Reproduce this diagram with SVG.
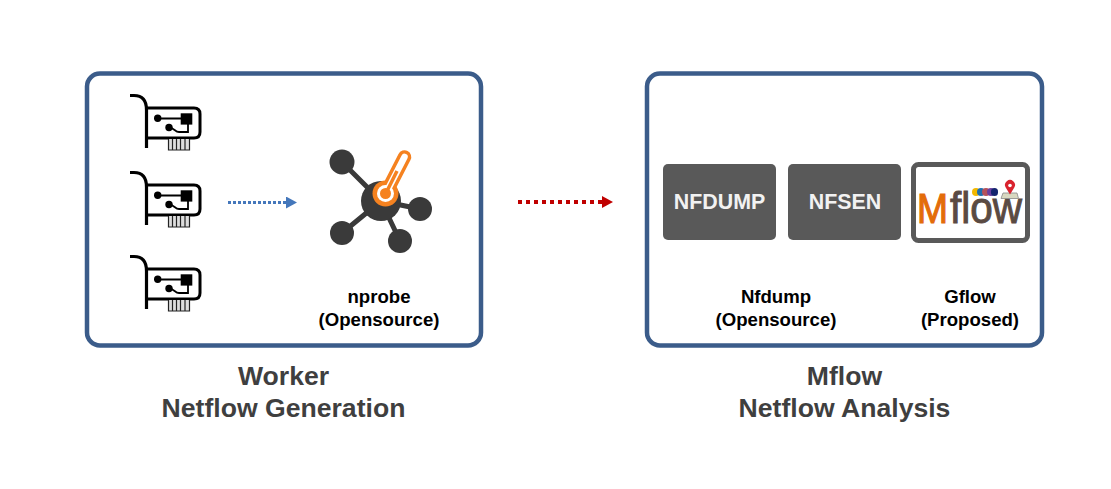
<svg xmlns="http://www.w3.org/2000/svg" width="1111" height="489" viewBox="0 0 1111 489">
<style>
text{font-family:"Liberation Sans",Arial,sans-serif;font-weight:bold;text-anchor:middle}
.panel{fill:#fff;stroke:#3b5c8a;stroke-width:4.5}
.title{font-size:26.600px;fill:#3f3f3f}
.lbl{font-size:18.600px;fill:#000}
.box{fill:#595959}
.boxt{font-size:21.400px;fill:#f2f2f2}
.hub{fill:#3a3a3a}
.ln{fill:none;stroke:#000;stroke-width:1.800}
.logo{font-weight:normal;text-anchor:start}
</style>
<defs>
<marker id="ab" markerUnits="userSpaceOnUse" markerWidth="11" markerHeight="12" refX="0" refY="6" orient="auto"><path d="M0 0L11 6L0 12Z" fill="#4477bb"/></marker>
<marker id="ar" markerUnits="userSpaceOnUse" markerWidth="11" markerHeight="12" refX="0" refY="6" orient="auto"><path d="M0 0L11 6L0 12Z" fill="#c00000"/></marker>
<g id="nic">
<path d="M130 95.500H134Q146.500 95.500 146.500 110V148" fill="none" stroke="#000" stroke-width="3.200"/>
<path d="M147 108H194Q200 108 200 114V132Q200 138 194 138H147" fill="none" stroke="#000" stroke-width="3"/>
<circle cx="157.700" cy="118.300" r="3.700"/>
<rect x="180.700" y="113.300" width="11.600" height="11.300"/>
<path class="ln" d="M158 118.500H181M188 124V132H179C175 132 174 127.500 169 127.500"/>
<circle cx="169" cy="127.500" r="3.700"/>
<path d="M168.500 139V150H189.500V139M172.500 139V150M176.500 139V150M180.500 139V150M185 139V150" fill="#ddd" stroke="#222" stroke-width="1.200"/>
</g>
</defs>
<g id="worker">
<rect class="panel" x="87" y="73.500" width="394" height="272" rx="13"/>
<text class="title" x="283.500" y="384.500">Worker</text>
<text class="title" x="283.500" y="417">Netflow Generation</text>
</g>
<g id="mflow">
<rect class="panel" x="647" y="73.500" width="395" height="272" rx="13"/>
<text class="title" x="844.500" y="384.500">Mflow</text>
<text class="title" x="844.500" y="417">Netflow Analysis</text>
</g>
<g id="nic1"><use href="#nic"/></g>
<g id="nic2"><use href="#nic" y="77"/></g>
<g id="nic3"><use href="#nic" y="161"/></g>
<g id="nprobe">
<path d="M342 162L381 201M420 209L381 201M342 233L381 201M400 241L381 201" stroke="#3a3a3a" stroke-width="5" fill="none"/>
<circle class="hub" cx="342" cy="162" r="12.500"/>
<circle class="hub" cx="420" cy="209" r="12"/>
<circle class="hub" cx="342" cy="233" r="12"/>
<circle class="hub" cx="400" cy="241" r="12"/>
<circle class="hub" cx="381" cy="201" r="20"/>
<path d="M386 193L404.500 157" stroke="#f58220" stroke-width="13.500" stroke-linecap="round" fill="none"/>
<circle cx="385.500" cy="193.500" r="13" fill="#f58220"/>
<path d="M386 193L404.500 157" stroke="#fff" stroke-width="6.500" stroke-linecap="round" fill="none"/>
<circle cx="385.500" cy="193.500" r="8.500" fill="#fff"/>
<path d="M386 193L397 171" stroke="#f58220" stroke-width="3.500" fill="none"/>
<circle cx="385.500" cy="193.500" r="5.500" fill="#f58220"/>
<text class="lbl" x="379" y="302.500">nprobe</text>
<text class="lbl" x="379" y="325.500">(Opensource)</text>
</g>
<g id="nfdump">
<rect class="box" x="663" y="164" width="113" height="76" rx="5"/>
<text class="boxt" x="719.500" y="209">NFDUMP</text>
</g>
<g id="nfsen">
<rect class="box" x="788" y="164" width="113" height="76" rx="5"/>
<text class="boxt" x="845" y="209">NFSEN</text>
</g>
<g id="nfdump-label">
<text class="lbl" x="776" y="302.500">Nfdump</text>
<text class="lbl" x="776" y="325.500">(Opensource)</text>
</g>
<g id="gflow">
<rect x="913.500" y="164.500" width="114" height="76" rx="5" fill="#fff" stroke="#595959" stroke-width="5"/>
<text class="logo" x="917" y="223" style="font-size:42px;fill:#e36c0a;stroke:#e36c0a;stroke-width:1.200" textLength="31" lengthAdjust="spacingAndGlyphs">M</text>
<text class="logo" x="950" y="223" style="font-size:45px;fill:#5a4a42;stroke:#5a4a42;stroke-width:1" textLength="72" lengthAdjust="spacingAndGlyphs">flow</text>
<rect x="972" y="188" width="8" height="8" rx="4" fill="#f2b800"/>
<rect x="977" y="188" width="8" height="8" rx="4" fill="#1f6fb0"/>
<rect x="982" y="188" width="8" height="8" rx="4" fill="#b5525c"/>
<rect x="987" y="188" width="8" height="8" rx="4" fill="#6b3fa0"/>
<rect x="991" y="188" width="7" height="8" rx="3.500" fill="#14246e"/>
<path d="M1001 198.500L1003 193H1017L1018.500 198.500Z" fill="#d8d8c0" stroke="#888" stroke-width="0.800"/>
<path d="M1010 194.500L1005.700 187.500A5 5 0 1 1 1014.300 187.500Z" fill="#d9232e"/>
<circle cx="1010" cy="185.500" r="1.800" fill="#fff"/>
<text class="lbl" x="970" y="302.500">Gflow</text>
<text class="lbl" x="970" y="325.500">(Proposed)</text>
</g>
<g id="connectors">
<path d="M228 202.500H286" fill="none" stroke="#4477bb" stroke-width="3" stroke-dasharray="3 2" marker-end="url(#ab)"/>
<path d="M518 202H602" fill="none" stroke="#c00000" stroke-width="4" stroke-dasharray="4 4" marker-end="url(#ar)"/>
</g>
</svg>
